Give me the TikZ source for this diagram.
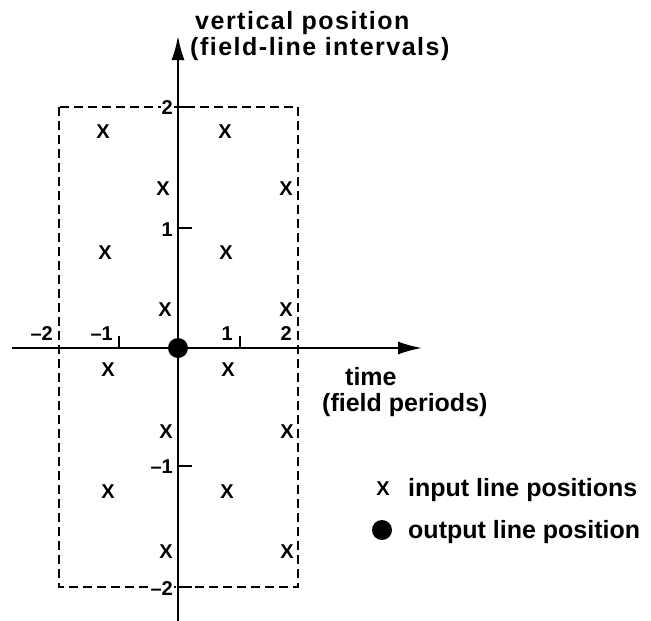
\documentclass[tikz,border=0pt]{standalone}
\usepackage{fontspec}
\setmainfont{Liberation Sans}
\usetikzlibrary{arrows.meta}
\begin{document}
\begin{tikzpicture}[x=1pt,y=-1pt,
  axis/.style={line width=2pt, -{Latex[length=24pt,width=13pt]}},
  box/.style={line width=2pt, dash pattern=on 9pt off 5pt},
  tickmark/.style={line width=1.8pt},
  xmark/.style={font=\fontsize{20}{20}\selectfont\bfseries, inner sep=0pt},
  ticklbl/.style={font=\fontsize{20}{20}\selectfont\bfseries, inner sep=1pt},
  lbl/.style={font=\fontsize{25}{27}\selectfont\bfseries, inner sep=0pt, anchor=base west},
  widelbl/.style={lbl, font=\fontsize{25}{27}\selectfont\bfseries\addfontfeature{LetterSpace=6}},
  dotmark/.style={circle, fill=black, minimum size=20pt, inner sep=0pt},
]
\useasboundingbox (0,0) rectangle (651,621);
% dashed region
\draw[box] (59,107) rectangle (298,587);
% axis coordinates
\coordinate (xl) at (12,348);
\coordinate (xr) at (422,348);
\coordinate (yb) at (178,621);
\coordinate (yt) at (178,36);
% tick labels on y axis
\node[ticklbl, anchor=east, fill=white] (y2) at (174,108) {2};
\node[ticklbl, anchor=east] (y1) at (174,230) {1};
\node[ticklbl, anchor=east] (ym1) at (174,467) {–1};
\node[ticklbl, anchor=east, fill=white] (ym2) at (174,589) {–2};
% tick labels on x axis
\node[ticklbl, anchor=base east] (xm2) at (54,340) {–2};
\node[ticklbl, anchor=base east] (xm1) at (114,340) {–1};
\node[ticklbl, anchor=base east] (x1) at (234,340) {1};
\node[ticklbl, anchor=base east] (x2) at (293,340) {2};
% axes
\draw[axis] (xl) -- (xr);
\draw[axis] (yb) -- (yt);
% ticks
\draw[tickmark] (119,348) -- (119,336);
\draw[tickmark] (240,348) -- (240,336);
\draw[tickmark] (178,107) -- (192,107);
\draw[tickmark] (178,228) -- (192,228);
\draw[tickmark] (178,466) -- (192,466);
\draw[tickmark] (178,587) -- (192,587);
% input line positions
\node[xmark] (a1) at (103,132) {X};
\node[xmark] (a2) at (105,253) {X};
\node[xmark] (a3) at (108,370) {X};
\node[xmark] (a4) at (108,492) {X};
\node[xmark] (b1) at (163,189) {X};
\node[xmark] (b2) at (165,310) {X};
\node[xmark] (b3) at (166,432) {X};
\node[xmark] (b4) at (166,552) {X};
\node[xmark] (c1) at (225,132) {X};
\node[xmark] (c2) at (226,253) {X};
\node[xmark] (c3) at (228,370) {X};
\node[xmark] (c4) at (227,492) {X};
\node[xmark] (d1) at (286,189) {X};
\node[xmark] (d2) at (286,310) {X};
\node[xmark] (d3) at (287,432) {X};
\node[xmark] (d4) at (287,552) {X};
% output position
\node[dotmark] (out) at (178,348) {};
% axis titles
\node[widelbl] (vt1) at (195,30) {vertical position};
\node[widelbl] (vt2) at (190,55) {(field-line intervals)};
\node[lbl] (tt1) at (345,385) {time};
\node[lbl] (tt2) at (322,411) {(field periods)};
% legend
\node[xmark] (lx) at (383,489) {X};
\node[lbl] (lxt) at (408,496) {input line positions};
\node[dotmark] (ld) at (382,530) {};
\node[lbl] (ldt) at (408,538) {output line position};
\end{tikzpicture}
\end{document}
